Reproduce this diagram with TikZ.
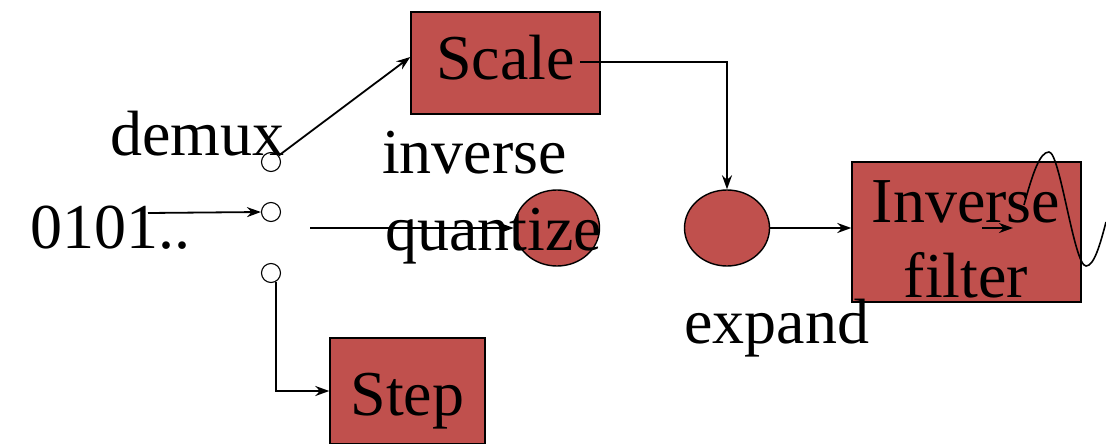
\documentclass[tikz,border=0pt]{standalone}
\usepackage{fontspec}
\setmainfont{Liberation Serif}
\usetikzlibrary{arrows.meta,shapes.geometric}
\definecolor{boxred}{RGB}{192,80,77}
\begin{document}
\begin{tikzpicture}[x=1pt,y=-1pt,
  every node/.style={font=\fontsize{64}{76}\selectfont},
  redbox/.style={draw=black,line width=1.4pt,fill=boxred,inner sep=0pt,text depth=0pt},
  redell/.style={ellipse,draw=black,line width=1.4pt,fill=boxred,inner sep=0pt},
  port/.style={circle,draw=black,line width=1.1pt,fill=white,minimum size=19pt,inner sep=0pt},
  lbl/.style={anchor=base west,inner sep=0pt},
  clbl/.style={anchor=base,inner sep=0pt},
  conn/.style={line width=1.8pt,-{Stealth[length=14pt,width=10pt]}},
  wave/.style={line width=1.6pt}]
\useasboundingbox (0,0) rectangle (1106,444);
% boxes
\node[redbox,minimum width=189pt,minimum height=102pt,text height=34pt] (scale) at (505.5,63) {Scale};
\node[redbox,minimum width=155pt,minimum height=106pt,text height=48pt] (step) at (407.5,391) {Step};
\node[redbox,minimum width=229pt,minimum height=140pt] (filt) at (966.5,232) {};
\node[clbl] (filtA) at (966,222) {Inverse};
\node[clbl] (filtB) at (966,297) {filter};
% ellipses
\node[redell,minimum width=85pt,minimum height=76pt] (quant) at (557,228) {};
\node[redell,minimum width=85pt,minimum height=76pt] (expand) at (727,228) {};
% ports
\node[port] (c1) at (271,162) {};
\node[port] (c2) at (271,212) {};
\node[port] (c3) at (271,273) {};
% labels
\node[lbl] (demux) at (110,155) {demux};
\node[lbl] (bits) at (30,248) {0101..};
\node[lbl] (inv) at (382,173) {inverse};
\node[lbl] (qtext) at (385,250) {quantize};
\node[lbl] (exptext) at (684,343) {expand};
% free ends
\coordinate (bitsstart) at (148,213);
\coordinate (qstart) at (310,228);
\coordinate (scaleout) at (580,62);
\coordinate (fin) at (982,228);
\coordinate (fout) at (1013,228);
% connectors
\draw[conn] (bitsstart) -- (c2.west);
\draw[conn] (c1.40) -- ([yshift=6pt]scale.west);
\draw[conn] (c3.-60) |- (step.west);
\draw[conn] (qstart) -- (quant.west);
\draw[conn] (scaleout) -| (expand.north);
\draw[conn] (expand.east) -- (expand.east -| filt.west);
\draw[conn] (fin) -- (fout);
% output wave
\draw[wave] (1024,205) .. controls (1033,172) and (1040,152) .. (1049,152)
  .. controls (1060,152) and (1074,266) .. (1086,266)
  .. controls (1094,266) and (1100,245) .. (1106,222);
\end{tikzpicture}
\end{document}
